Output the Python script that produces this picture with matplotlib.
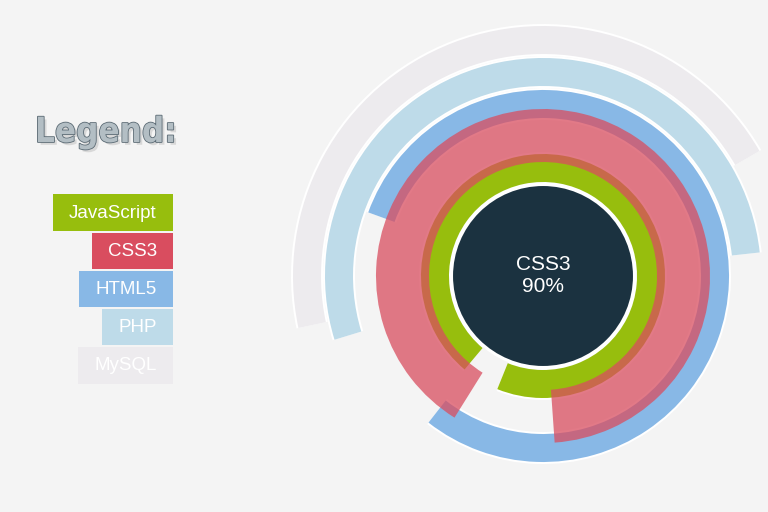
import matplotlib
matplotlib.use('Agg')
import matplotlib.pyplot as plt
from matplotlib.patches import Wedge, Circle, Rectangle
import matplotlib.patheffects as pe

# Данные графика
labels = ['JavaScript', 'CSS3', 'HTML5', 'PHP', 'MySQL']
values = [95, 90, 80, 53, 45]            # проценты
start_angles = [220, 212, 290, 253, 258]  # градусы по часовой стрелке от 12 часов
colors = ['#97BE0D', '#D94D5F', '#88B8E6', '#BEDBE9', '#EDEBEE']
active_label = 'CSS3'

BG = '#F4F4F4'
CENTER = (543, 276)


def draw_rings(ax):
    for i, (label, val, start, color) in enumerate(zip(labels, values, start_angles, colors)):
        r_mid = 108 + 32 * i
        span = val / 100 * 360
        # ось y перевёрнута, поэтому углы Wedge идут по часовой стрелке
        theta1 = start - 90
        theta2 = start - 90 + span
        if label == active_label:
            w = Wedge(CENTER, 167, theta1, theta2, width=53,
                      facecolor=color, alpha=0.75, edgecolor='none', zorder=5)
            ax.add_patch(w)
        else:
            # белая подложка только по радиусу (просветы между кольцами)
            ax.add_patch(Wedge(CENTER, r_mid + 16, theta1, theta2, width=32,
                               facecolor='white', edgecolor='none', zorder=1))
            ax.add_patch(Wedge(CENTER, r_mid + 14, theta1, theta2, width=28,
                               facecolor=color, edgecolor='none', zorder=2))

    # тёмный круг в центре
    ax.add_patch(Circle(CENTER, 91.5, facecolor='#1B3240', edgecolor='white',
                        linewidth=2.2, zorder=3))
    idx = labels.index(active_label)
    ax.text(CENTER[0], CENTER[1], f'{active_label}\n{values[idx]}%', color='white',
            fontsize=15, family='Liberation Sans', ha='center', va='center',
            linespacing=1.2, zorder=6)


def draw_legend(fig, ax):
    ax.text(35, 142, 'Legend:', fontsize=25, fontweight='bold', fontstretch='condensed',
            family='DejaVu Sans', color='#b3bec4', ha='left', va='baseline',
            path_effects=[pe.SimplePatchShadow(offset=(2, -2), shadow_rgbFace='#d2d2d2', alpha=0.8),
                          pe.Stroke(linewidth=1.2, foreground='#5b6a74'), pe.Normal()])

    renderer = fig.canvas.get_renderer()
    inv = ax.transData.inverted()
    right = 172.7
    pad = 16
    for i, (label, color) in enumerate(zip(labels, colors)):
        top = 194.3 + 38.2 * i
        h = 36.4
        t = ax.text(right - pad, top + h / 2 + 0.5, label, color='white', fontsize=13.5,
                    family='Liberation Sans', ha='right', va='center', zorder=4)
        bb = t.get_window_extent(renderer)
        x0 = inv.transform((bb.x0, bb.y0))[0]
        ax.add_patch(Rectangle((x0 - pad, top), right - (x0 - pad), h,
                               facecolor=color, edgecolor='none', zorder=3))


def main():
    fig = plt.figure(figsize=(7.68, 5.12), dpi=100, facecolor=BG)
    ax = fig.add_axes([0, 0, 1, 1])
    ax.set_facecolor(BG)
    ax.set_xlim(0, 768)
    ax.set_ylim(512, 0)
    ax.axis('off')

    draw_rings(ax)
    draw_legend(fig, ax)

    fig.savefig('out.png', dpi=100, facecolor=BG)
    plt.close(fig)


if __name__ == '__main__':
    main()
